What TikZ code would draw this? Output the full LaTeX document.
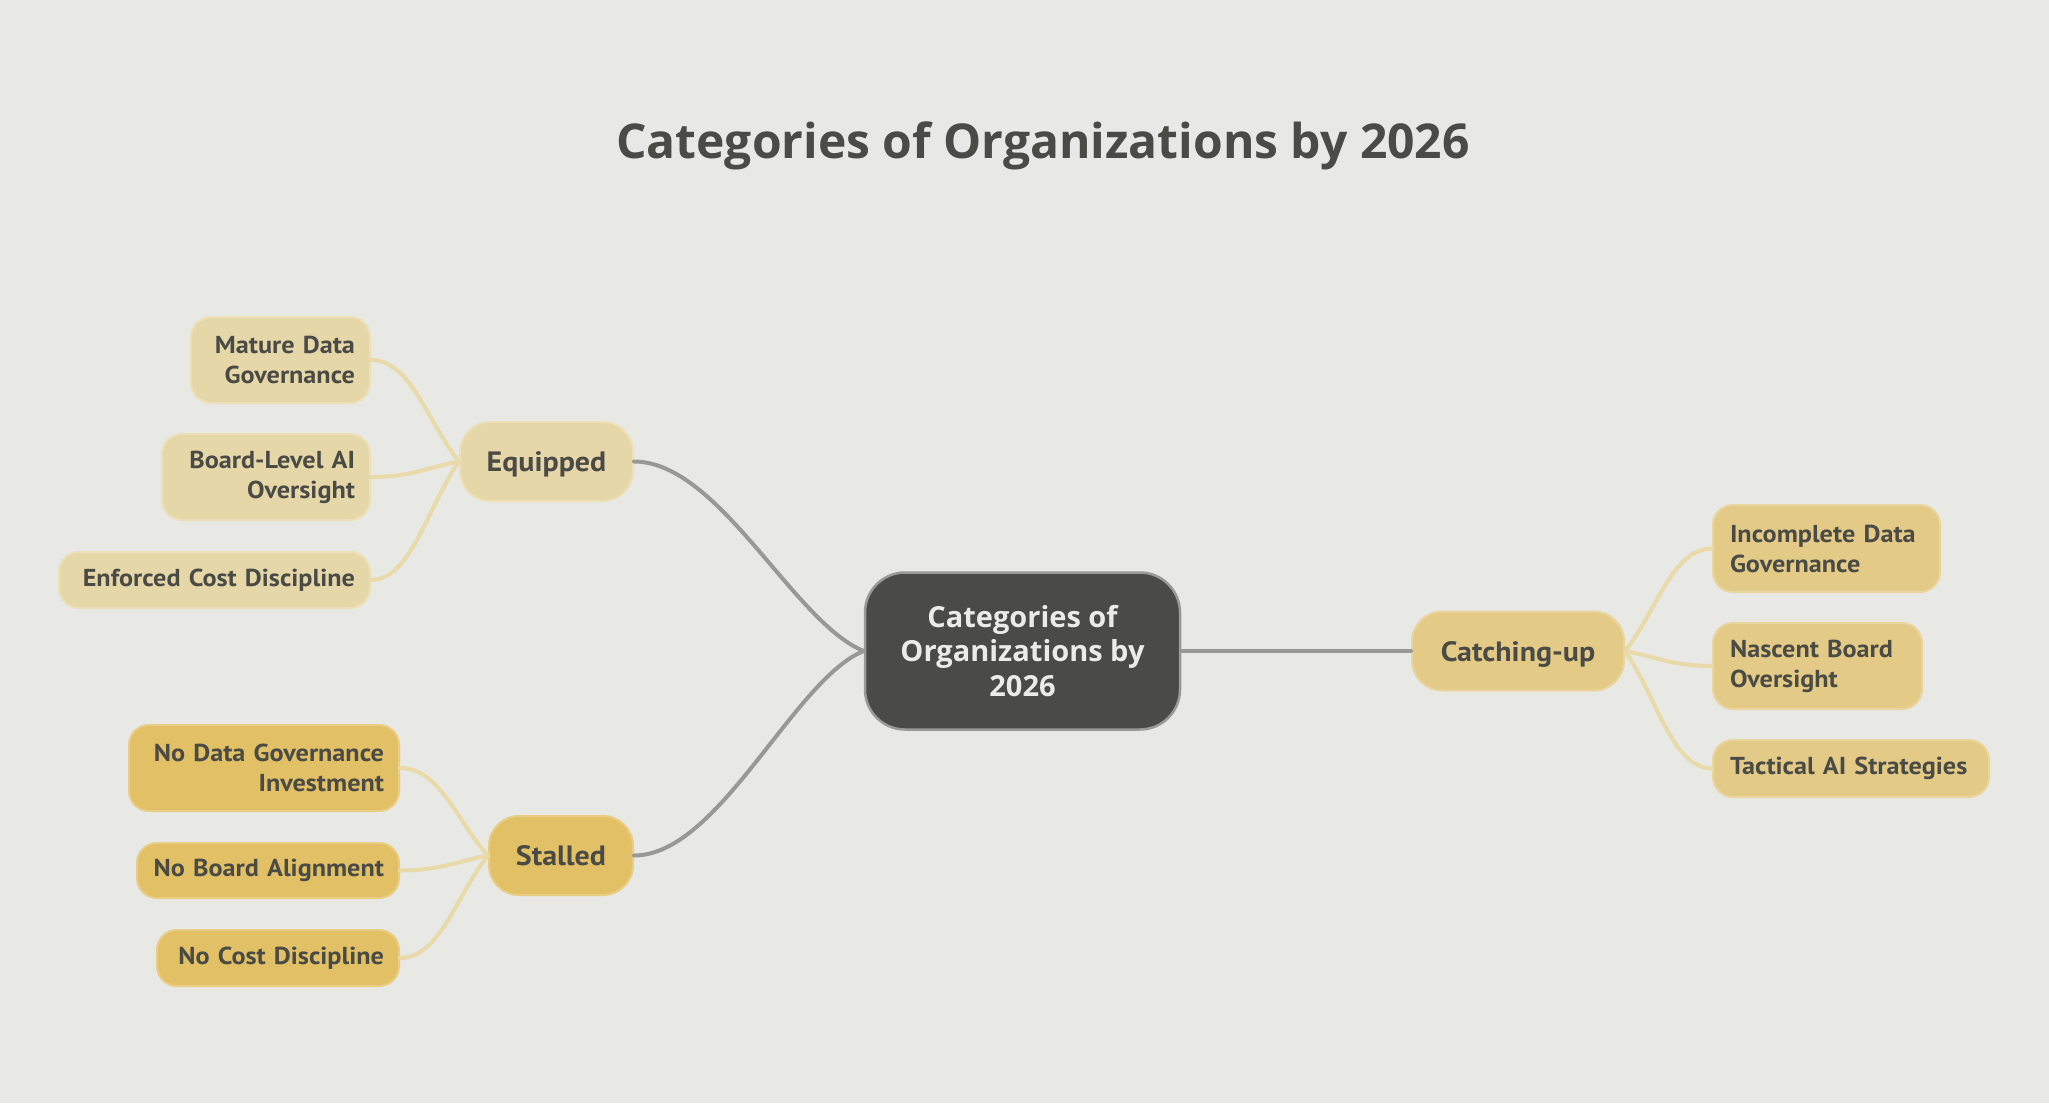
\documentclass[tikz,border=0pt]{standalone}
\usepackage{fontspec}
\setmainfont{Open Sans}
\newfontfamily\leaffont[FakeStretch=1.07]{PT Sans}
\definecolor{bgc}{HTML}{E8E8E5}
\definecolor{txt}{HTML}{4A4B45}
\definecolor{cfill}{HTML}{4A4B46}
\definecolor{cborder}{HTML}{9A9A95}
\definecolor{ctext}{HTML}{ECECE7}
\definecolor{gedge}{HTML}{999994}
\definecolor{ledge}{HTML}{E8DAA9}
\definecolor{eqfill}{HTML}{E6D7A9}
\definecolor{eqborder}{HTML}{EDE0B8}
\definecolor{cafill}{HTML}{E3CA87}
\definecolor{caborder}{HTML}{EAD59F}
\definecolor{stfill}{HTML}{E1C066}
\definecolor{stborder}{HTML}{E9CD85}
\tikzset{
  leafbase/.style={rounded corners=20pt, line width=2pt, inner xsep=15pt, inner ysep=0pt,
     font=\leaffont\bfseries\fontsize{24.5}{30}\selectfont, text=txt},
  leafL/.style={leafbase, align=right},
  leafR/.style={leafbase, align=left, inner xsep=17pt},
  mainbox/.style={rounded corners=30pt, line width=2pt, inner sep=0pt, align=center,
     text height=20pt, text depth=0pt,
     font=\leaffont\bfseries\fontsize{28}{32}\selectfont, text=txt},
  eqstyle/.style={fill=eqfill, draw=eqborder},
  castyle/.style={fill=cafill, draw=caborder},
  ststyle/.style={fill=stfill, draw=stborder},
  gline/.style={draw=gedge, line width=4pt, line cap=round},
  lline/.style={draw=ledge, line width=4pt, line cap=round},
}
\begin{document}
\begin{tikzpicture}[x=1pt,y=-1pt]
\useasboundingbox (0,0) rectangle (2049,1103);
\fill[bgc] (0,0) rectangle (2049,1103);
% title
\node[anchor=base, font=\bfseries\fontsize{48}{56}\selectfont, text=txt] (title) at (1043,158) {Categories of Organizations by 2026};
% central
\node[rounded corners=40pt, fill=cfill, draw=cborder, line width=2.5pt, minimum width=315pt, minimum height=157pt,
      align=center, inner sep=0pt, font=\bfseries\fontsize{29}{34.5}\selectfont, text=ctext]
      (center) at (1022.5,651) {Categories of\\Organizations by\\2026};
% main nodes
\node[mainbox, eqstyle, minimum width=173pt, minimum height=79pt] (equip) at (546.5,461.5) {Equipped};
\node[mainbox, ststyle, minimum width=144pt, minimum height=79pt] (stall) at (561,855.5) {Stalled};
\node[mainbox, castyle, minimum width=212pt, minimum height=79pt] (catch) at (1518,651) {Catching-up};
% equipped leaves
\node[leafL, eqstyle, text width=149pt, minimum height=86pt] (mature) at (280.5,360) {Mature Data\hspace{0.28em}\\Governance};
\node[leafL, eqstyle, text width=178pt, minimum height=86pt] (boardlvl) at (266,477) {Board-Level AI\hspace{0.28em}\\Oversight};
\node[leafL, eqstyle, text width=281pt, minimum height=56pt] (enforced) at (214.5,580) {Enforced Cost Discipline};
% stalled leaves
\node[leafL, ststyle, text width=240pt, minimum height=86pt] (nodata) at (264,768) {No Data Governance\hspace{0.28em}\\Investment};
\node[leafL, ststyle, text width=232pt, minimum height=55pt] (noboard) at (268,870.5) {No Board Alignment};
\node[leafL, ststyle, text width=212pt, minimum height=56pt] (nocost) at (278,958) {No Cost Discipline};
% catching leaves
\node[leafR, castyle, text width=193pt, minimum height=87pt] (incomplete) at (1826.5,548.5) {Incomplete Data\\Governance};
\node[leafR, castyle, text width=175pt, minimum height=86pt] (nascent) at (1817.5,666) {Nascent Board\\Oversight};
\node[leafR, castyle, text width=242pt, minimum height=57pt] (tactical) at (1851,768.5) {Tactical AI Strategies};
% main connectors
\draw[gline] (equip.east) .. controls +(85,0) and +(-70,-28) .. (center.west);
\draw[gline] (stall.east) .. controls +(85,0) and +(-70,28) .. (center.west);
\draw[gline] (center.east) -- (catch.west);
% equipped leaf connectors
\draw[lline] (mature.east) .. controls +(40,0) and +(-32,-40) .. (equip.west);
\draw[lline] (boardlvl.east) .. controls +(40,0) and +(-32,6) .. (equip.west);
\draw[lline] (enforced.east) .. controls +(40,0) and +(-32,46) .. (equip.west);
% stalled leaf connectors
\draw[lline] (nodata.east) .. controls +(40,0) and +(-32,-35) .. (stall.west);
\draw[lline] (noboard.east) .. controls +(40,0) and +(-32,6) .. (stall.west);
\draw[lline] (nocost.east) .. controls +(40,0) and +(-32,40) .. (stall.west);
% catching leaf connectors
\draw[lline] (catch.east) .. controls +(32,-40) and +(-40,0) .. (incomplete.west);
\draw[lline] (catch.east) .. controls +(32,6) and +(-40,0) .. (nascent.west);
\draw[lline] (catch.east) .. controls +(32,46) and +(-40,0) .. (tactical.west);
\end{tikzpicture}
\end{document}
